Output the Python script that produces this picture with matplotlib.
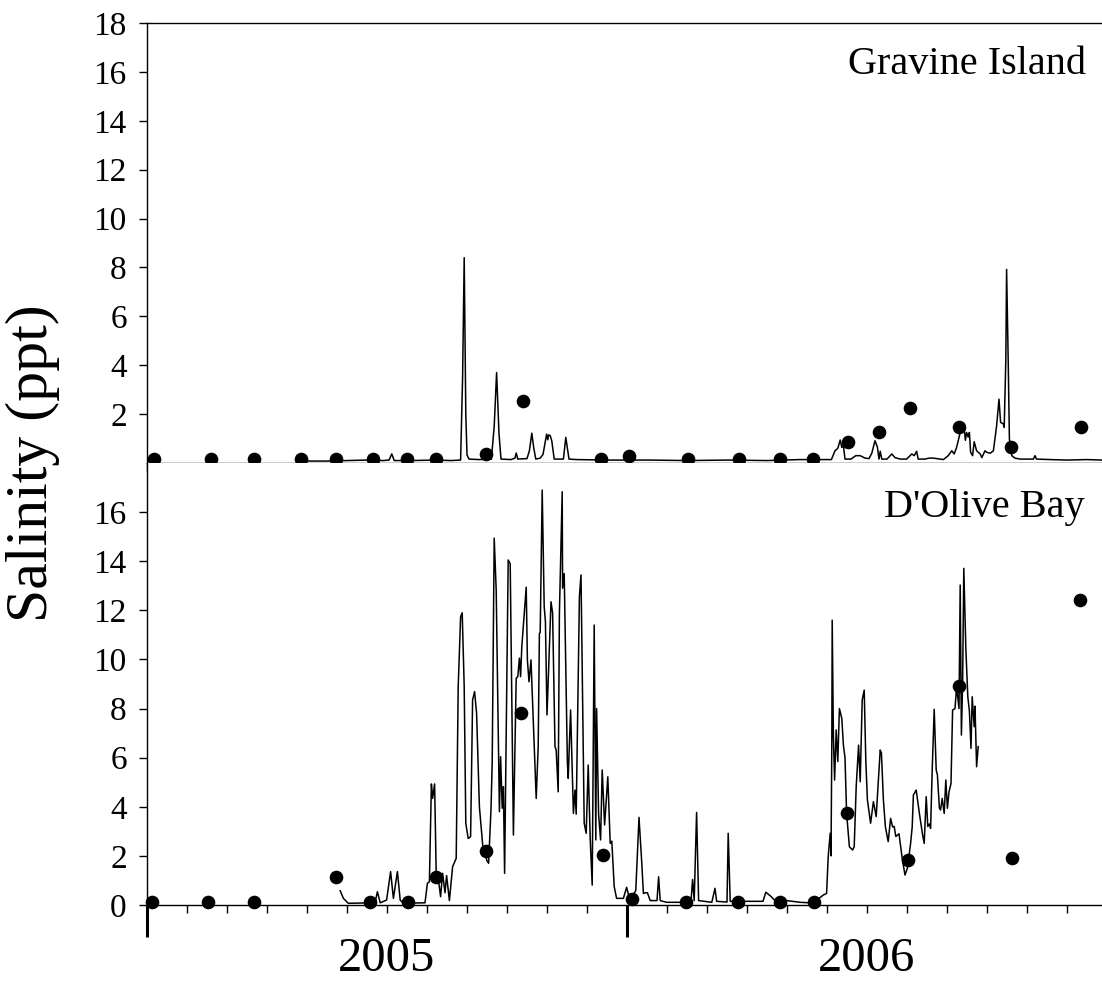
import matplotlib
matplotlib.use("Agg")
import matplotlib.pyplot as plt
from matplotlib.ticker import FixedLocator, NullFormatter
import matplotlib.transforms as mtransforms

plt.rcParams["font.family"] = ["Liberation Serif", "DejaVu Serif"]

# Time axis: months since 1 January 2005
x_end = 23.875
year_labels = ["2005", "2006"]
year_centers = [6, 18]

# Gravine Island: discrete samples (month, salinity ppt)
gravine_samples_month = [0.18, 1.6, 2.68, 3.85, 4.73, 5.65, 6.5, 7.23, 8.48, 9.4, 11.35,
                         12.05, 13.53, 14.8, 15.83, 16.65, 17.53, 18.3, 19.08, 20.3, 21.6, 23.35]
gravine_samples_sal = [0.16, 0.16, 0.16, 0.16, 0.16, 0.16, 0.16, 0.16, 0.35, 2.53, 0.16,
                       0.28, 0.16, 0.16, 0.16, 0.16, 0.87, 1.25, 2.24, 1.46, 0.64, 1.47]

# Gravine Island: continuous logger record (month, salinity ppt)
gravine_logger = [
    (3.9, 0.08), (4.5, 0.08), (5.0, 0.1), (5.5, 0.12), (5.9, 0.1), (6.05, 0.12), (6.12, 0.37),
    (6.18, 0.1), (6.6, 0.1), (7.2, 0.12), (7.6, 0.1), (7.84, 0.12), (7.89, 3.5), (7.93, 8.4),
    (7.97, 2.0), (8.0, 0.33), (8.05, 0.16), (8.3, 0.14), (8.61, 0.16), (8.68, 1.5), (8.74, 3.7),
    (8.8, 1.2), (8.85, 0.16), (9.1, 0.14), (9.2, 0.2), (9.23, 0.41), (9.27, 0.16), (9.5, 0.18),
    (9.56, 0.5), (9.62, 1.22), (9.67, 0.6), (9.72, 0.16), (9.83, 0.2), (9.9, 0.35), (9.96, 0.9),
    (9.99, 1.18), (10.02, 0.95), (10.04, 1.15), (10.08, 1.12), (10.12, 0.9), (10.18, 0.16),
    (10.41, 0.16), (10.47, 1.05), (10.51, 0.6), (10.55, 0.16), (10.74, 0.14), (11.5, 0.12),
    (12.0, 0.12), (12.58, 0.12), (13.5, 0.1), (14.5, 0.12), (15.5, 0.1), (16.33, 0.14),
    (17.11, 0.14), (17.2, 0.5), (17.27, 0.6), (17.33, 0.94), (17.37, 0.64), (17.41, 0.71),
    (17.45, 0.16), (17.6, 0.16), (17.72, 0.3), (17.83, 0.3), (17.95, 0.2), (18.05, 0.18),
    (18.12, 0.4), (18.2, 0.91), (18.26, 0.65), (18.3, 0.16), (18.33, 0.48), (18.37, 0.16),
    (18.5, 0.16), (18.58, 0.3), (18.62, 0.37), (18.7, 0.22), (18.83, 0.16), (18.99, 0.16),
    (19.12, 0.37), (19.18, 0.3), (19.24, 0.48), (19.28, 0.16), (19.45, 0.16), (19.55, 0.2),
    (19.66, 0.2), (19.91, 0.14), (20.03, 0.3), (20.12, 0.5), (20.18, 0.37), (20.24, 0.64),
    (20.31, 1.11), (20.35, 1.47), (20.39, 1.6), (20.42, 1.55), (20.46, 0.93), (20.49, 1.25),
    (20.53, 1.06), (20.56, 1.25), (20.59, 0.44), (20.64, 0.3), (20.68, 0.87), (20.74, 0.5),
    (20.83, 0.37), (20.87, 0.22), (20.95, 0.5), (20.99, 0.44), (21.08, 0.4), (21.16, 0.5),
    (21.24, 1.52), (21.3, 2.61), (21.34, 1.66), (21.41, 1.6), (21.43, 1.46), (21.47, 4.18),
    (21.49, 7.92), (21.53, 4.18), (21.56, 0.98), (21.62, 0.3), (21.7, 0.2), (21.83, 0.16),
    (22.16, 0.16), (22.2, 0.3), (22.24, 0.16), (22.58, 0.14), (23.0, 0.12), (23.5, 0.14),
    (23.875, 0.12),
]

# D'Olive Bay: discrete samples (month, salinity ppt)
dolive_samples_month = [0.13, 1.53, 2.68, 4.73, 5.58, 6.53, 7.23, 8.48, 9.35, 11.4, 12.13,
                        13.48, 14.78, 15.83, 16.68, 17.5, 19.03, 20.3, 21.63, 23.33]
dolive_samples_sal = [0.12, 0.12, 0.12, 1.13, 0.14, 0.14, 1.13, 2.2, 7.8, 2.04, 0.23,
                      0.12, 0.12, 0.12, 0.12, 3.73, 1.83, 8.92, 1.93, 12.41]

# D'Olive Bay: continuous logger record (month, salinity ppt)
dolive_logger = [
    (4.83, 0.58), (4.91, 0.27), (5.03, 0.07), (5.7, 0.09), (5.76, 0.54), (5.83, 0.09),
    (5.99, 0.2), (6.09, 1.36), (6.16, 0.27), (6.26, 1.36), (6.33, 0.2), (6.41, 0.07),
    (6.95, 0.09), (7.01, 0.88), (7.06, 0.95), (7.11, 4.93), (7.14, 4.34), (7.19, 4.93),
    (7.23, 1.29), (7.28, 1.1), (7.34, 0.34), (7.39, 1.29), (7.45, 0.5), (7.49, 1.2),
    (7.56, 0.18), (7.64, 1.56), (7.73, 1.9), (7.78, 8.89), (7.84, 11.74), (7.88, 11.9),
    (7.93, 8.89), (7.97, 3.33), (8.03, 2.71), (8.09, 2.78), (8.14, 8.35), (8.19, 8.69),
    (8.24, 7.8), (8.31, 4.0), (8.4, 2.3), (8.5, 1.8), (8.54, 1.7), (8.6, 3.9), (8.63, 5.8),
    (8.68, 14.94), (8.73, 12.83), (8.81, 3.8), (8.84, 6.04), (8.88, 3.94), (8.91, 4.82),
    (8.94, 1.29), (9.03, 14.05), (9.08, 13.9), (9.16, 2.85), (9.23, 9.23), (9.27, 9.3),
    (9.31, 10.05), (9.34, 9.3), (9.37, 10.52), (9.48, 12.94), (9.51, 9.98), (9.55, 9.09),
    (9.6, 9.98), (9.73, 4.34), (9.78, 6.45), (9.81, 11.06), (9.83, 11.1), (9.88, 16.9),
    (9.93, 12.15), (9.96, 11.55), (10.0, 7.74), (10.1, 12.35), (10.14, 11.89), (10.2, 6.45),
    (10.23, 6.3), (10.28, 4.61), (10.31, 11.87), (10.38, 16.83), (10.39, 12.9), (10.43, 13.5),
    (10.51, 5.77), (10.53, 5.16), (10.59, 7.94), (10.66, 3.73), (10.7, 4.68), (10.73, 3.7),
    (10.81, 12.55), (10.85, 13.44), (10.93, 3.33), (10.98, 2.92), (11.03, 5.7), (11.08, 2.7),
    (11.13, 0.81), (11.18, 11.4), (11.22, 2.65), (11.24, 8.0), (11.29, 3.7), (11.34, 2.65),
    (11.38, 5.5), (11.44, 3.26), (11.52, 5.22), (11.58, 2.51), (11.62, 2.6), (11.68, 0.75),
    (11.74, 0.27), (11.91, 0.27), (11.99, 0.72), (12.04, 0.41), (12.18, 0.47), (12.22, 0.6),
    (12.3, 3.57), (12.37, 1.69), (12.41, 0.47), (12.47, 0.5), (12.51, 0.5), (12.58, 0.18),
    (12.75, 0.18), (12.79, 1.15), (12.83, 0.18), (12.99, 0.11), (13.41, 0.11), (13.6, 0.15),
    (13.64, 1.04), (13.68, 0.18), (13.74, 3.77), (13.79, 0.18), (14.12, 0.11), (14.2, 0.68),
    (14.24, 0.15), (14.5, 0.12), (14.53, 2.92), (14.58, 0.15), (15.16, 0.15), (15.4, 0.15),
    (15.47, 0.52), (15.6, 0.35), (15.7, 0.18), (15.99, 0.18), (16.33, 0.11), (16.66, 0.08),
    (16.91, 0.41), (16.99, 0.47), (17.03, 1.97), (17.08, 2.92), (17.1, 2.0), (17.12, 6.45),
    (17.13, 11.6), (17.16, 6.85), (17.19, 5.09), (17.23, 7.13), (17.27, 5.84), (17.31, 8.0),
    (17.37, 7.6), (17.41, 6.51), (17.45, 6.0), (17.49, 3.73), (17.56, 2.37), (17.64, 2.24),
    (17.68, 2.37), (17.73, 4.82), (17.79, 6.51), (17.83, 5.02), (17.88, 8.35), (17.93, 8.75),
    (17.97, 5.9), (18.01, 4.28), (18.09, 3.33), (18.16, 4.21), (18.23, 3.6), (18.33, 6.31),
    (18.36, 6.2), (18.41, 4.28), (18.46, 3.18), (18.53, 2.58), (18.59, 3.53), (18.64, 3.18),
    (18.68, 3.2), (18.72, 2.79), (18.8, 2.9), (18.88, 1.9), (18.95, 1.22), (19.01, 1.5),
    (19.09, 2.51), (19.13, 3.18), (19.16, 4.48), (19.23, 4.68), (19.31, 3.73), (19.39, 2.85),
    (19.43, 2.51), (19.48, 4.41), (19.52, 3.2), (19.56, 3.3), (19.59, 3.12), (19.63, 5.5),
    (19.68, 7.97), (19.73, 5.5), (19.76, 5.3), (19.81, 3.94), (19.84, 3.87), (19.88, 4.34),
    (19.93, 3.73), (19.97, 5.09), (20.01, 3.94), (20.05, 4.6), (20.1, 4.95), (20.14, 7.94),
    (20.2, 8.0), (20.24, 8.89), (20.3, 8.0), (20.33, 13.03), (20.36, 6.92), (20.39, 9.0),
    (20.42, 13.71), (20.47, 10.5), (20.52, 8.48), (20.56, 7.9), (20.6, 6.38), (20.63, 8.48),
    (20.68, 7.26), (20.7, 8.1), (20.74, 5.63), (20.78, 6.45),
]

W, H = 1102, 983
fig = plt.figure(figsize=(W / 100, H / 100), dpi=100)

left = 147 / W
width = 1 - left
ax_top = fig.add_axes([left, 1 - 463 / H, width, 440 / H])
ax_bot = fig.add_axes([left, 1 - 905 / H, width, 442 / H])

tick_fs = 24
line_kw = dict(color="black", lw=1.1)
dot_kw = dict(ls="none", marker="o", ms=8.8, color="black", clip_on=False, zorder=5)


def style_axes(ax):
    ax.set_xlim(0, x_end)
    ax.set_ylim(0, 18)
    ax.spines["right"].set_visible(False)
    for s in ax.spines.values():
        s.set_linewidth(1.0)
    ax.tick_params(axis="y", direction="out", length=5.5, width=1.0, labelsize=tick_fs, pad=9)


# Gravine Island panel
gm, gs = zip(*gravine_logger)
ax_top.plot(gm, gs, **line_kw)
ax_top.plot(gravine_samples_month, gravine_samples_sal, **dot_kw)
style_axes(ax_top)
ax_top.set_yticks(range(2, 19, 2))
ax_top.xaxis.set_major_locator(FixedLocator(range(0, 24)))
ax_top.xaxis.set_major_formatter(NullFormatter())
ax_top.tick_params(axis="x", direction="out", length=5.5, width=1.0)
ax_top.text(0.983, 0.905, "Gravine Island", transform=ax_top.transAxes,
            ha="right", va="center", fontsize=29)

# D'Olive Bay panel
dm, ds = zip(*dolive_logger)
ax_bot.plot(dm, ds, **line_kw)
ax_bot.plot(dolive_samples_month, dolive_samples_sal, **dot_kw)
style_axes(ax_bot)
ax_bot.spines["top"].set_visible(False)
ax_bot.set_yticks(range(0, 17, 2))
ax_bot.xaxis.set_major_locator(FixedLocator([0, 12, 24]))
ax_bot.xaxis.set_minor_locator(FixedLocator(range(0, 24)))
ax_bot.xaxis.set_major_formatter(NullFormatter())
ax_bot.tick_params(axis="x", which="major", direction="out", length=23, width=2.2)
ax_bot.tick_params(axis="x", which="minor", direction="out", length=6, width=1.0)
ax_bot.text(0.982, 0.9, "D'Olive Bay", transform=ax_bot.transAxes,
            ha="right", va="center", fontsize=29)

# Year labels centred under each year span
trans = mtransforms.blended_transform_factory(ax_bot.transData, fig.transFigure)
for label, xc in zip(year_labels, year_centers):
    ax_bot.text(xc, 1 - 959 / H, label, transform=trans, ha="center", va="center",
                fontsize=35)

fig.text(33 / W, 1 - 463 / H, "Salinity (ppt)", rotation=90, ha="center", va="center",
         fontsize=43)

fig.savefig("out.png", dpi=100)
